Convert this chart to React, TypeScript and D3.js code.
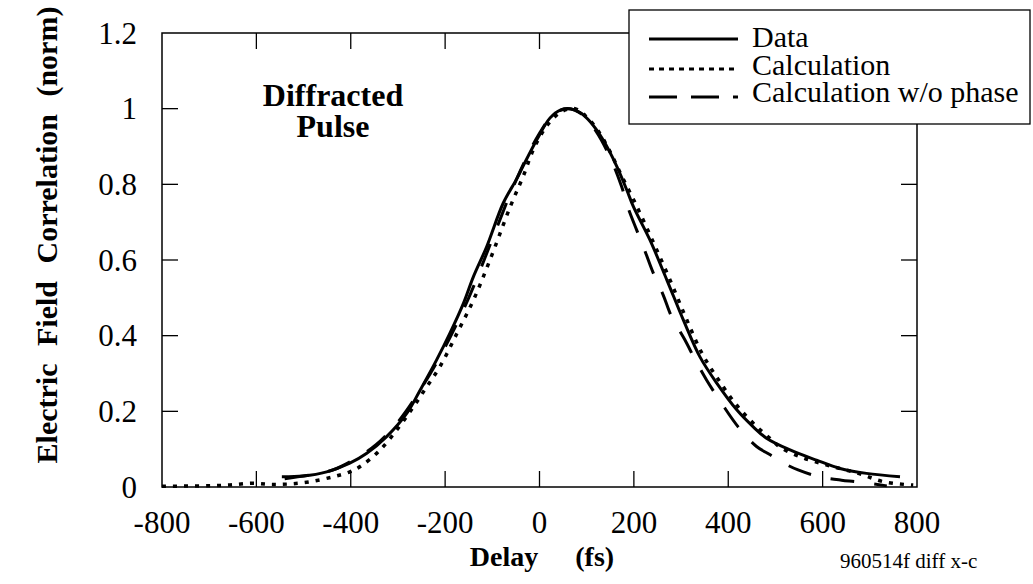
import React from "react";
import * as d3 from "d3";

const xTicks = [-800, -600, -400, -200, 0, 200, 400, 600, 800];
const xTickLabels = ["-800", "-600", "-400", "-200", "0", "200", "400", "600", "800"];
const yTicks = [0, 0.2, 0.4, 0.6, 0.8, 1, 1.2];
const yTickLabels = ["0", "0.2", "0.4", "0.6", "0.8", "1", "1.2"];

const dataDelay = [-546, -501, -451, -402, -366, -324, -281, -253, -218, -190, -161, -140, -112, -77, -48, -34, -6, 22, 45, 65, 86, 107, 135, 164, 185, 199, 234, 270, 305, 340, 376, 418, 453, 481, 531, 587, 637, 693, 764];
const dataValue = [0.027, 0.029, 0.04, 0.063, 0.089, 0.133, 0.195, 0.256, 0.336, 0.406, 0.486, 0.556, 0.635, 0.75, 0.815, 0.85, 0.917, 0.975, 0.997, 1.0, 0.99, 0.966, 0.917, 0.847, 0.785, 0.741, 0.653, 0.547, 0.441, 0.344, 0.274, 0.204, 0.159, 0.129, 0.098, 0.071, 0.049, 0.036, 0.027];

const calcDelay = [-800, -720, -660, -610, -570, -530, -486, -437, -402, -380, -340, -300, -267, -239, -211, -175, -140, -105, -62, -35, -10, 20, 48, 75, 100, 125, 150, 175, 205, 240, 275, 310, 345, 380, 420, 460, 490, 510, 552, 609, 676, 729, 792];
const calcValue = [0.002, 0.003, 0.005, 0.01, 0.007, 0.008, 0.014, 0.027, 0.04, 0.054, 0.095, 0.155, 0.212, 0.265, 0.318, 0.406, 0.494, 0.6, 0.741, 0.82, 0.9, 0.962, 0.993, 1.0, 0.978, 0.94, 0.885, 0.82, 0.745, 0.65, 0.552, 0.448, 0.352, 0.282, 0.213, 0.16, 0.127, 0.105, 0.08, 0.058, 0.036, 0.014, 0.005];

const noPhaseDelay = [-540, -480, -438, -395, -347, -300, -250, -200, -150, -100, -50, 0, 30, 60, 90, 120, 150, 174, 188, 206, 224, 241, 262, 280, 308, 330, 354, 386, 421, 460, 489, 506, 548, 594, 640, 672, 736];
const noPhaseValue = [0.022, 0.033, 0.045, 0.071, 0.111, 0.172, 0.262, 0.37, 0.5, 0.655, 0.81, 0.935, 0.985, 1.0, 0.985, 0.94, 0.87, 0.794, 0.737, 0.679, 0.622, 0.566, 0.508, 0.45, 0.389, 0.336, 0.283, 0.221, 0.159, 0.107, 0.085, 0.071, 0.045, 0.027, 0.018, 0.014, 0.003];

const legendLabels = ["Data", "Calculation", "Calculation w/o phase"];

const serif = "'Liberation Serif', 'Times New Roman', serif";

export default function App() {
  const W = 1033, H = 584;
  const x = d3.scaleLinear().domain([-800, 800]).range([162, 917]);
  const y = d3.scaleLinear().domain([0, 1.2]).range([487, 33]);
  const line = d3
    .line<[number, number]>()
    .x((d) => x(d[0]))
    .y((d) => y(d[1]))
    .curve(d3.curveCatmullRom.alpha(0.5));
  const zip = (a: number[], b: number[]) => a.map((v, i) => [v, b[i]] as [number, number]);

  const dataPath = line(zip(dataDelay, dataValue)) || "";
  const calcPath = line(zip(calcDelay, calcValue)) || "";
  const noPhasePath = line(zip(noPhaseDelay, noPhaseValue)) || "";

  const [x0, x1] = x.range();
  const [yb, yt] = y.range();
  const tickLen = 16;

  const legendStyles = [
    { dash: "none", width: 3 },
    { dash: "5 5", width: 3 },
    { dash: "28 14", width: 3 },
  ];
  const legendLineY = [39, 69, 97];
  const legendTextY = [47, 75, 102];

  return (
    <svg width={W} height={H} style={{ position: "absolute", left: 0, top: 0, background: "#fff" }}>
      <rect x={0} y={0} width={W} height={H} fill="#fff" />
      {/* frame */}
      <rect x={x0} y={yt} width={x1 - x0} height={yb - yt} fill="none" stroke="#000" strokeWidth={1.5} />
      {/* ticks */}
      {xTicks.map((t, i) =>
        i === 0 || i === xTicks.length - 1 ? null : (
          <g key={"xt" + t}>
            <line x1={x(t)} x2={x(t)} y1={yb} y2={yb - tickLen} stroke="#000" strokeWidth={1.3} />
            <line x1={x(t)} x2={x(t)} y1={yt} y2={yt + tickLen} stroke="#000" strokeWidth={1.3} />
          </g>
        )
      )}
      {yTicks.map((t, i) =>
        i === 0 || i === yTicks.length - 1 ? null : (
          <g key={"yt" + t}>
            <line x1={x0} x2={x0 + tickLen} y1={y(t)} y2={y(t)} stroke="#000" strokeWidth={1.3} />
            <line x1={x1} x2={x1 - tickLen} y1={y(t)} y2={y(t)} stroke="#000" strokeWidth={1.3} />
          </g>
        )
      )}
      {/* tick labels */}
      {xTicks.map((t, i) => (
        <text key={"xl" + t} x={x(t)} y={533} textAnchor="middle" fontFamily={serif} fontSize={31} fill="#000">
          {xTickLabels[i]}
        </text>
      ))}
      {yTicks.map((t, i) => (
        <text key={"yl" + t} x={137} y={y(t) + 10.5} textAnchor="end" fontFamily={serif} fontSize={31} fill="#000">
          {yTickLabels[i]}
        </text>
      ))}
      {/* curves */}
      <g fill="none" stroke="#000" strokeLinejoin="round">
        <path d={noPhasePath} strokeWidth={3} strokeDasharray="24 20" />
        <path d={calcPath} strokeWidth={3.5} strokeDasharray="4 7" />
        <path d={dataPath} strokeWidth={3} />
      </g>
      {/* annotation */}
      <text x={333} y={106} textAnchor="middle" fontFamily={serif} fontWeight="bold" fontSize={32} fill="#000">
        Diffracted
      </text>
      <text x={333} y={137} textAnchor="middle" fontFamily={serif} fontWeight="bold" fontSize={32} fill="#000">
        Pulse
      </text>
      {/* legend */}
      <rect x={629} y={10} width={401} height={114} fill="#fff" stroke="#000" strokeWidth={1.3} />
      {legendLabels.map((lab, i) => (
        <g key={lab}>
          <line
            x1={649}
            x2={738}
            y1={legendLineY[i]}
            y2={legendLineY[i]}
            stroke="#000"
            strokeWidth={legendStyles[i].width}
            strokeDasharray={legendStyles[i].dash}
          />
          <text x={752} y={legendTextY[i]} fontFamily={serif} fontSize={30} fill="#000">
            {lab}
          </text>
        </g>
      ))}
      {/* axis titles */}
      <text x={542} y={566} textAnchor="middle" fontFamily={serif} fontWeight="bold" fontSize={28} fill="#000" style={{ wordSpacing: "30px" }}>
        Delay (fs)
      </text>
      <text
        transform="translate(57,235) rotate(-90)"
        textAnchor="middle"
        fontFamily={serif}
        fontWeight="bold"
        fontSize={30}
        fill="#000"
        style={{ wordSpacing: "10px" }}
      >
        Electric Field Correlation (norm)
      </text>
      <text x={840} y={568} fontFamily={serif} fontSize={21} fill="#000">
        960514f diff x-c
      </text>
    </svg>
  );
}
